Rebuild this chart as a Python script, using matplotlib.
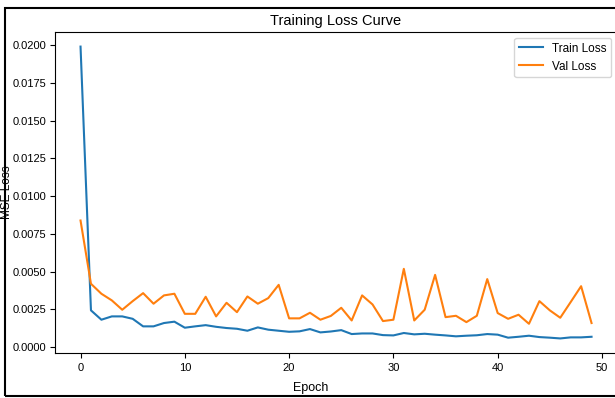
import matplotlib
matplotlib.use("Agg")
import matplotlib.pyplot as plt
from matplotlib.patches import Rectangle

plt.rcParams['font.family'] = ['Liberation Sans', 'DejaVu Sans']

#-------------------------------------------------------------------------------
# values
train_loss = [0.0199, 0.00243, 0.00181, 0.00203, 0.00203, 0.00187, 0.00137, 0.00137,
              0.00159, 0.00168, 0.00128, 0.00137, 0.00145, 0.00134, 0.00126, 0.00121,
              0.00108, 0.00130, 0.00115, 0.00108, 0.00101, 0.00104, 0.00119, 0.00097,
              0.00103, 0.00112, 0.00086, 0.00090, 0.00090, 0.00079, 0.00077, 0.00093,
              0.00084, 0.00088, 0.00082, 0.00077, 0.00071, 0.00075, 0.00078, 0.00086,
              0.00082, 0.00062, 0.00068, 0.00075, 0.00066, 0.00062, 0.00057, 0.00064,
              0.00064, 0.00068]
val_loss = [0.00838, 0.00419, 0.00353, 0.00309, 0.00247, 0.00304, 0.00357, 0.00287,
            0.00342, 0.00353, 0.00220, 0.00220, 0.00333, 0.00203, 0.00293, 0.00231,
            0.00335, 0.00287, 0.00324, 0.00412, 0.00190, 0.00190, 0.00227, 0.00181,
            0.00206, 0.00260, 0.00176, 0.00342, 0.00282, 0.00172, 0.00181, 0.00518,
            0.00176, 0.00247, 0.00478, 0.00198, 0.00207, 0.00165, 0.00207, 0.00450,
            0.00225, 0.00187, 0.00214, 0.00154, 0.00304, 0.00243, 0.00194, 0.00298,
            0.00403, 0.00159]
epochs = list(range(len(train_loss)))

#-------------------------------------------------------------------------------
fig = plt.figure(figsize=(6.15, 3.98), dpi=100)
ax = fig.add_axes([0.0894, 0.113, 0.914, 0.8066])

ax.plot(epochs, train_loss, color='#1f77b4', linewidth=1.5, label='Train Loss')
ax.plot(epochs, val_loss, color='#ff7f0e', linewidth=1.5, label='Val Loss')

ax.set_title('Training Loss Curve', fontsize=10.5, pad=5)
ax.set_xlabel('Epoch', fontsize=9)
ax.set_ylabel('MSE Loss', fontsize=8.5)
ax.xaxis.set_label_coords(0.455, -0.09)
ax.yaxis.set_label_coords(-0.074, 0.5)
ax.set_yticks([0.0, 0.0025, 0.005, 0.0075, 0.01, 0.0125, 0.015, 0.0175, 0.02])
ax.yaxis.set_major_formatter(matplotlib.ticker.FormatStrFormatter('%.4f'))
ax.tick_params(labelsize=8)
ax.tick_params(axis='y', pad=2.5)
ax.legend(loc='upper right', fontsize=8.5)

# outer frame of the screenshot
fig.patches.append(Rectangle((5/615, 2/398), 1.2, 388/398, transform=fig.transFigure,
                             fill=False, edgecolor='black', linewidth=1.5))

fig.savefig('out.png', dpi=100)
